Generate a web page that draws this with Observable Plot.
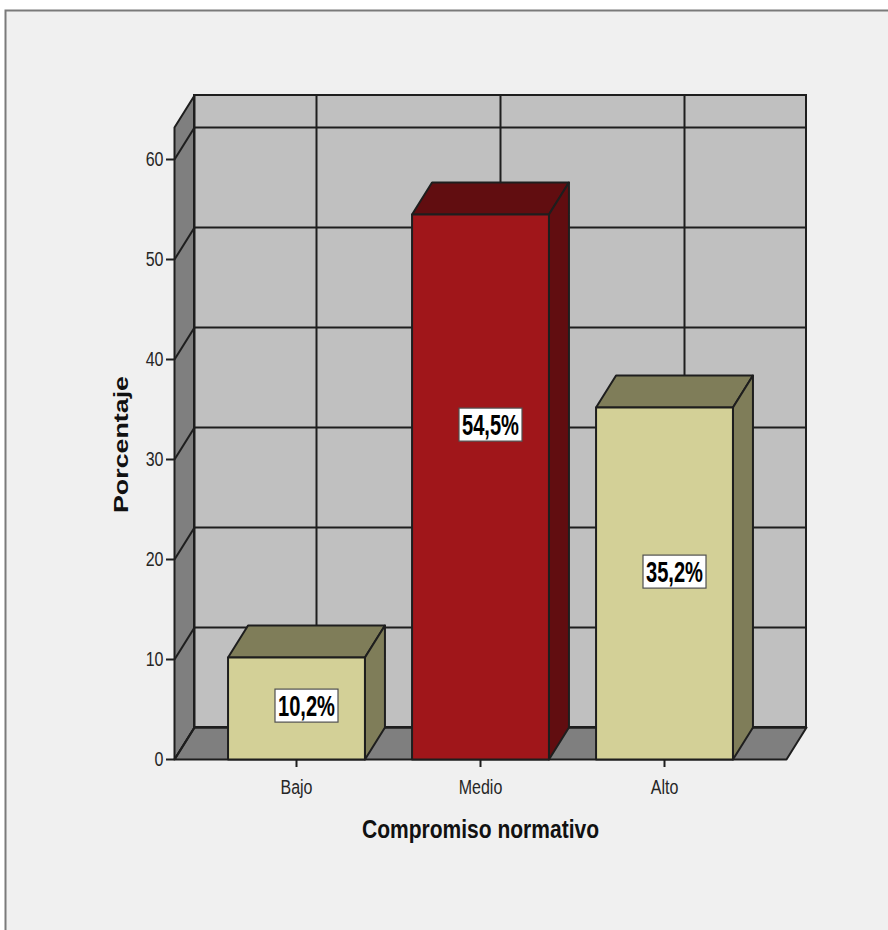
<!DOCTYPE html>
<html>
<head>
<meta charset="utf-8">
<script src="https://cdn.jsdelivr.net/npm/d3@7"></script>
<script src="https://cdn.jsdelivr.net/npm/@observablehq/plot@0.6"></script>
<style>
  html, body { margin: 0; padding: 0; background: #ffffff; overflow: hidden; }
</style>
</head>
<body>
<div id="chart"></div>
<script>
// ---- data ----
const categories = ["Bajo", "Medio", "Alto"];
const percentages = [10.2, 54.5, 35.2];
const valueLabels = ["10,2%", "54,5%", "35,2%"];
const labelAt = [5.3, 33.4, 18.7];          // value at which each label box sits
const yTicks = [0, 10, 20, 30, 40, 50, 60];
const xTitle = "Compromiso normativo";
const yTitle = "Porcentaje";
const highlighted = "Medio";

// ---- 3D geometry (data units) ----
const X0 = -0.663, X1 = 2.663, YTOP = 63.2;
const DX = 0.1087, DY = 3.2, HW = 0.372;

const BG = "#f0f0f0", EDGE = "#1e1e1e";
const WALL_BACK = "#c0c0c0", WALL_SIDE = "#7f7f7f";
const BEIGE = "#d3d097", BEIGE_DARK = "#7f7d59";
const RED = "#a0161a", RED_DARK = "#610d10";

function poly(id, pts, fill) {
  const closed = pts.concat([pts[0]]);
  return closed.map(([x, y]) => ({id, x, y, fill}));
}

const wallRows = [
  ...poly("left", [[X0, 0], [X0, YTOP], [X0 + DX, YTOP + DY], [X0 + DX, DY]], WALL_SIDE),
  ...poly("floor", [[X0, 0], [X1, 0], [X1 + DX, DY], [X0 + DX, DY]], WALL_SIDE)
];

const barFrontRows = [];
const barFaceRows = [];
categories.forEach((c, i) => {
  const v = percentages[i];
  const hi = c === highlighted;
  const front = hi ? RED : BEIGE, dark = hi ? RED_DARK : BEIGE_DARK;
  barFrontRows.push(...poly(c + "-front", [[i - HW, 0], [i + HW, 0], [i + HW, v], [i - HW, v]], front));
  barFaceRows.push(...poly(c + "-top", [[i - HW, v], [i + HW, v], [i + HW + DX, v + DY], [i - HW + DX, v + DY]], dark));
  barFaceRows.push(...poly(c + "-side", [[i + HW, 0], [i + HW + DX, DY], [i + HW + DX, v + DY], [i + HW, v]], dark));
});

const frameMark = () => {
  const r = document.createElementNS("http://www.w3.org/2000/svg", "rect");
  r.setAttribute("x", 5.5); r.setAttribute("y", 10.5);
  r.setAttribute("width", 900); r.setAttribute("height", 1000);
  r.setAttribute("fill", BG); r.setAttribute("stroke", "#7a7a7a"); r.setAttribute("stroke-width", 2);
  return r;
};

const plot = Plot.plot({
  width: 888,
  height: 930,
  marginLeft: 174,
  marginRight: 82,
  marginTop: 95,
  marginBottom: 171,
  x: {domain: [X0, X1 + DX]},
  y: {domain: [0, YTOP + DY]},
  color: {type: "identity"},
  style: {background: "#ffffff", fontFamily: "'Liberation Sans', Arial, sans-serif", overflow: "visible"},
  marks: [
    frameMark,
    Plot.rect([0], {x1: X0 + DX, x2: X1 + DX, y1: DY, y2: YTOP + DY, fill: WALL_BACK}),
    Plot.line(wallRows, {x: "x", y: "y", z: "id", fill: "fill", stroke: EDGE, strokeWidth: 2}),
    Plot.ruleY(yTicks, {y: d => d + DY, x1: X0 + DX, x2: X1 + DX, stroke: EDGE, strokeWidth: 2}),
    Plot.ruleX(categories.map((c, i) => i), {x: d => d + DX, y1: DY, y2: YTOP + DY, stroke: EDGE, strokeWidth: 2}),
    Plot.link(yTicks, {x1: X0, y1: d => d, x2: X0 + DX, y2: d => d + DY, stroke: EDGE, strokeWidth: 2}),
    Plot.rect([0], {x1: X0 + DX, x2: X1 + DX, y1: DY, y2: YTOP + DY, fill: "none", stroke: EDGE, strokeWidth: 2}),
    Plot.line(barFaceRows, {x: "x", y: "y", z: "id", fill: "fill", stroke: EDGE, strokeWidth: 2}),
    Plot.line(barFrontRows, {x: "x", y: "y", z: "id", fill: "fill", stroke: EDGE, strokeWidth: 2}),
    Plot.axisY({ticks: yTicks, tickSize: 8, tickPadding: 3, fontSize: 20, stroke: EDGE, strokeWidth: 2, fill: "#262626", label: null}),
    Plot.axisX({ticks: [0, 1, 2], tickFormat: i => categories[i], tickSize: 8, tickPadding: 12, fontSize: 20, stroke: EDGE, strokeWidth: 2, fill: "#262626", label: null}),
    Plot.text(valueLabels, {x: (d, i) => i + DX / 2, y: (d, i) => labelAt[i], text: d => d, fontSize: 30, fontWeight: "bold", fill: "#000"}),
    Plot.text([xTitle], {x: 1.0, y: -7.0, text: d => d, fontSize: 25, fontWeight: "bold", fill: "#111"}),
    Plot.text([yTitle], {x: -0.951, y: 31.5, text: d => d, rotate: -90, fontSize: 20, fontWeight: "bold", fill: "#111"})
  ]
});

document.getElementById("chart").appendChild(plot);

// condensed look of the original lettering, classified by content
const tickTexts = new Set([...yTicks.map(String), ...categories]);
const valueTexts = new Set(valueLabels);
const SVGNS = "http://www.w3.org/2000/svg";
plot.querySelectorAll("text").forEach(t => {
  const s = t.textContent;
  let len = null;
  if (tickTexts.has(s)) len = t.getComputedTextLength() * 0.8;
  else if (s === xTitle) len = 237;
  else if (s === yTitle) len = 137;
  else if (valueTexts.has(s)) len = t.getComputedTextLength() * 0.67;
  if (len != null) {
    t.setAttribute("textLength", len);
    t.setAttribute("lengthAdjust", "spacingAndGlyphs");
  }
  if (valueTexts.has(s)) {
    const b = t.getBBox();
    const r = document.createElementNS(SVGNS, "rect");
    r.setAttribute("x", b.x - 3);
    r.setAttribute("y", b.y);
    r.setAttribute("width", b.width + 6);
    r.setAttribute("height", b.height);
    r.setAttribute("fill", "#ffffff");
    r.setAttribute("stroke", "#505050");
    r.setAttribute("stroke-width", 1.2);
    if (t.getAttribute("transform")) r.setAttribute("transform", t.getAttribute("transform"));
    t.parentNode.insertBefore(r, t);
  }
});
</script>
</body>
</html>
